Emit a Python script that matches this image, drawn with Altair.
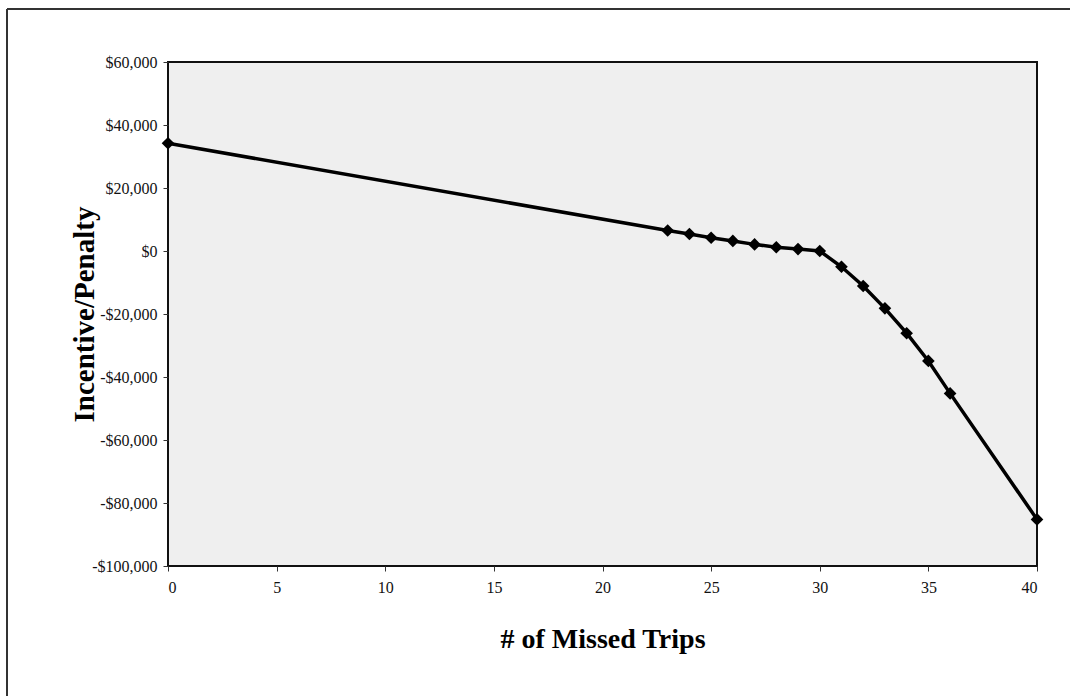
import altair as alt
import pandas as pd

missed_trips = [0, 23, 24, 25, 26, 27, 28, 29, 30, 31, 32, 33, 34, 35, 36, 40]
incentive = [34200, 6500, 5400, 4200, 3200, 2100, 1200, 600, 0,
             -5000, -11100, -18200, -26100, -34900, -45200, -85200]

x_ticks = [0, 5, 10, 15, 20, 25, 30, 35, 40]
y_ticks = [60000, 40000, 20000, 0, -20000, -40000, -60000, -80000, -100000]

df = pd.DataFrame({"trips": missed_trips, "value": incentive})

FONT = "Liberation Serif"
W, H = 869, 504
PAD_L, PAD_T = 168, 62

x_enc = alt.X(
    "trips:Q",
    scale=alt.Scale(domain=[0, 40], nice=False),
    axis=alt.Axis(
        values=x_ticks, grid=False, domain=False, tickSize=5, tickColor="#333",
        labelFont=FONT, labelFontSize=16, labelColor="#111", labelPadding=8,
        title="# of Missed Trips", titleFont=FONT, titleFontSize=28,
        titleFontWeight="bold", titleColor="#000",
        titleY=81, titleBaseline="alphabetic",
    ),
)
y_enc = alt.Y(
    "value:Q",
    scale=alt.Scale(domain=[-100000, 60000], nice=False),
    axis=alt.Axis(
        values=y_ticks, grid=False, domain=False, tickSize=5, tickColor="#333",
        labelFont=FONT, labelFontSize=16, labelColor="#111", labelPadding=6,
        labelExpr="datum.value < 0 ? '-$' + format(-datum.value, ',') : '$' + format(datum.value, ',')",
        title="Incentive/Penalty", titleFont=FONT, titleFontSize=29,
        titleFontWeight="bold", titleColor="#000",
        titleX=-84, titleY=H / 2, titleBaseline="middle", titleAngle=270,
    ),
)

line = alt.Chart(df).mark_line(color="#000", strokeWidth=3.5).encode(x=x_enc, y=y_enc)
pts = alt.Chart(df).mark_point(
    shape="diamond", filled=True, color="#000", size=160, opacity=1
).encode(x="trips:Q", y="value:Q")

frame_top = alt.Chart(df).mark_rule(color="#333", strokeWidth=2).encode(
    x=alt.value(7 - PAD_L), x2=alt.value(1080 - PAD_L), y=alt.value(9 - PAD_T)
)
frame_left = alt.Chart(df).mark_rule(color="#333", strokeWidth=2).encode(
    x=alt.value(7 - PAD_L), y=alt.value(9 - PAD_T), y2=alt.value(700 - PAD_T)
)

chart = alt.layer(frame_top, frame_left, line, pts).properties(
    width=W, height=H,
    autosize=alt.AutoSizeParams(type="none"),
    padding={"left": PAD_L, "top": PAD_T, "right": 1070 - PAD_L - W, "bottom": 696 - PAD_T - H},
    background="white",
).configure_view(
    fill="#efefef", stroke="#111", strokeWidth=2
)

chart.save("out.html", embed_options={"renderer": "svg", "actions": False})
